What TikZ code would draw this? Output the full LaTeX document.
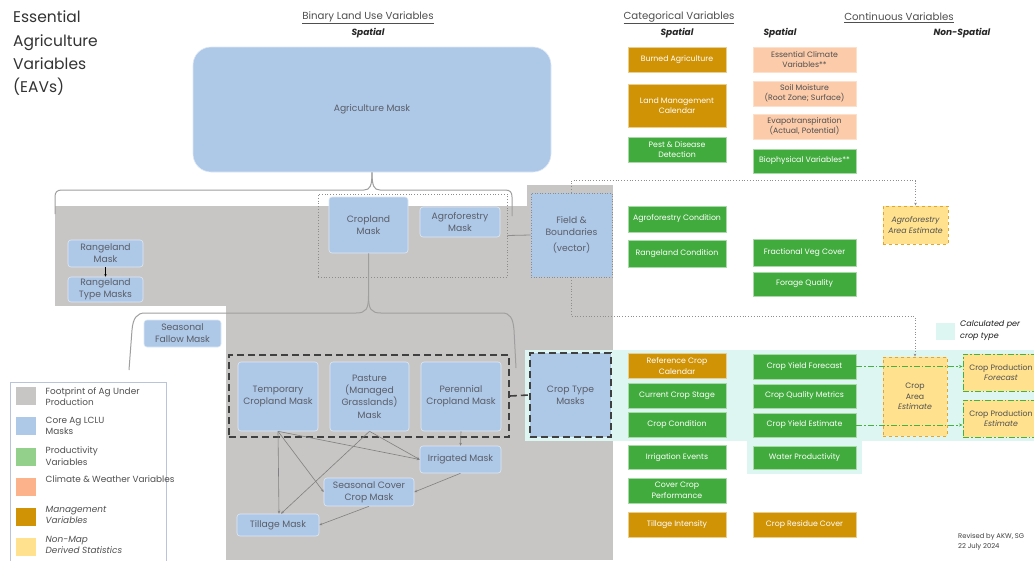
\documentclass[tikz,border=0pt]{standalone}
\usepackage{fontspec}
\setmainfont{Poppins}
\usetikzlibrary{arrows.meta}

\definecolor{agray}{HTML}{C8C6C4}
\definecolor{maskblue}{HTML}{AEC8E8}
\definecolor{masktxt}{HTML}{5A5E66}
\definecolor{prodgreen}{HTML}{41AB3D}
\definecolor{mgmt}{HTML}{D09306}
\definecolor{clim}{HTML}{FCCBAA}
\definecolor{estfill}{HTML}{FFE18E}
\definecolor{estline}{HTML}{E3A52B}
\definecolor{cropband}{HTML}{DDF6F1}
\definecolor{legline}{HTML}{B9C5D6}
\definecolor{linegray}{HTML}{8E8E8E}
\definecolor{dashgreen}{HTML}{46B040}
\definecolor{txtgray}{HTML}{4F4F4F}
\definecolor{swgreen}{HTML}{93D08C}
\definecolor{swsalmon}{HTML}{FCB28A}

\tikzset{
  base/.style={align=center, inner sep=0pt, font=\fontsize{7.8}{10.5}\selectfont},
  mask/.style={align=center, inner sep=0pt, font=\fontsize{9.2}{11.8}\selectfont, fill=maskblue, draw=white!60!maskblue, line width=0.6pt, rounded corners=3pt, text=masktxt},
  grn/.style={base, fill=prodgreen, draw=white!55!prodgreen, line width=0.8pt, text=white},
  mgt/.style={base, fill=mgmt, draw=white!55!mgmt, line width=0.8pt, text=white},
  clm/.style={base, fill=clim, draw=white!40!clim, line width=0.8pt, text=txtgray},
  est/.style={base, fill=estfill, draw=estline, dashed, line width=0.9pt, text=txtgray},
  prod/.style={base, fill=estfill, draw=dashgreen, dash pattern=on 6pt off 2pt on 1.5pt off 2pt, line width=1pt, text=txtgray},
  brace/.style={draw=linegray!85, line width=1pt},
  flow/.style={draw=linegray!90!black, line width=0.6pt, -{Stealth[length=3pt,width=2.6pt]}},
  dotlink/.style={draw=linegray, line width=0.8pt, dotted, -{Stealth[length=3pt,width=2.6pt]}},
  thickdash/.style={draw=black!75, line width=1.6pt, dash pattern=on 7pt off 4pt},
  greenlink/.style={draw=dashgreen, line width=1pt, dash pattern=on 6pt off 2pt on 1.5pt off 2pt, -{Stealth[length=3.5pt,width=3pt]}},
  hdr/.style={inner sep=0pt, text=txtgray, font=\fontsize{10.2}{12}\selectfont},
  sub/.style={inner sep=0pt, text=black!85, font=\fontsize{9}{11}\selectfont\bfseries\itshape},
  legtxt/.style={inner sep=0pt, anchor=north west, align=left, text=txtgray, font=\fontsize{8.9}{11.3}\selectfont},
  swatch/.style={minimum width=20, minimum height=18, inner sep=0pt},
}

\begin{document}
\begin{tikzpicture}[x=1pt,y=-1pt]
\useasboundingbox (0,0) rectangle (1034,560);
\fill[white] (0,0) rectangle (1034,560);

% footprint of agriculture under production
\fill[agray] (55,206) rectangle (226,306);
\fill[agray] (226,206) rectangle (613,560);
\fill[agray] (527,185) rectangle (613,206);

% per-crop-type band
\fill[cropband] (525,350) rectangle (1034,441);
\fill[cropband] (747,441) rectangle (862,474);

% title and column headings
\node[anchor=north west, align=left, inner sep=0pt, text=black!80,
      font=\fontsize{15.5}{23.3}\selectfont] (title) at (13,11)
  {Essential\\Agriculture\\Variables\\(EAVs)};
\node[hdr] (h1) at (368,18) {\underline{Binary Land Use Variables}};
\node[sub] (s1) at (368,33) {Spatial};
\node[hdr] (h2) at (679,18) {\underline{Categorical Variables}};
\node[sub] (s2) at (677,33) {Spatial};
\node[hdr] (h3) at (899,18) {\underline{Continuous Variables}};
\node[sub] (s3) at (780,33) {Spatial};
\node[sub] (s4) at (962,33) {Non-Spatial};

% binary land use masks
\node[mask, rounded corners=18pt, minimum width=358, minimum height=125] (agm) at (372,109.5) {Agriculture Mask};
\node[mask, minimum width=79, minimum height=56] (crm) at (368.5,225) {Cropland\\Mask};
\node[mask, minimum width=80, minimum height=30] (afm) at (460,222) {Agroforestry\\Mask};
\node[draw=black!45, dotted, line width=0.8pt, minimum width=189, minimum height=83] (dg) at (412.5,235.5) {};
\node[mask, rounded corners=0pt, draw=black!45, dotted, line width=0.8pt, minimum width=81, minimum height=84] (fb) at (571.5,235)
  {Field \&\\Boundaries\\[4pt](vector)};
\node[mask, minimum width=75, minimum height=27] (rm) at (105.5,253.5) {Rangeland\\Mask};
\node[mask, minimum width=75, minimum height=25] (rtm) at (105.5,289.5) {Rangeland\\Type Masks};
\node[mask, minimum width=77, minimum height=27] (sfm) at (182.5,333.5) {Seasonal\\Fallow Mask};

\node[mask, font=\fontsize{9.2}{12.3}\selectfont, minimum width=80, minimum height=69] (tcm) at (278,396.5) {Temporary\\Cropland Mask};
\node[mask, font=\fontsize{9.2}{12.3}\selectfont, minimum width=79, minimum height=69] (pm) at (369.5,396.5) {Pasture\\(Managed\\Grasslands)\\Mask};
\node[mask, font=\fontsize{9.2}{12.3}\selectfont, minimum width=80, minimum height=69] (pcm) at (461,396.5) {Perennial\\Cropland Mask};
\node[thickdash, minimum width=280, minimum height=82] (grp) at (369,396) {};
\node[mask, minimum width=81, minimum height=27] (im) at (460.5,459.5) {Irrigated Mask};
\node[mask, minimum width=90, minimum height=28] (scm) at (369,492) {Seasonal Cover\\Crop Mask};
\node[mask, minimum width=82, minimum height=22] (tm) at (278,525) {Tillage Mask};
\node[mask, rounded corners=0pt, thickdash, minimum width=81, minimum height=84] (ctm) at (570.5,395) {Crop Type\\Masks};

% braces grouping the masks
\draw[brace] (55,214) -- (55,197) .. controls (55,192) and (57,190) .. (62,190) -- (364,190)
  .. controls (370,190) and (372,186) .. (agm.south);
\draw[brace] (agm.south) .. controls (372,186) and (374,190) .. (380,190) -- (505,190)
  .. controls (510,190) and (512,192) .. (512,197) -- (512,216);
\coordinate (lb) at (368.5,296);
\draw[brace] (crm.south) -- (lb) .. controls (368.5,309) and (366,313) .. (356,313) -- (145,313)
  .. controls (137,313) and (133,318) .. (132,330) -- (129,370);
\draw[brace] (lb) .. controls (368.5,309) and (371,313) .. (381,313) -- (502,313)
  .. controls (510,313) and (513,318) .. (514,330) -- (516,368);

% links between masks
\draw[draw=linegray, line width=0.8pt] (dg.east) -- (fb.west);
\draw[thickdash] (grp.east) -- (ctm.west);
\draw[draw=black, line width=0.6pt, -{Stealth[length=2.5pt,width=2.4pt]}] (rm.south) -- (rtm.north);
\draw[flow] (tcm.south) -- ([xshift=1pt]tm.north);
\draw[flow] (tcm.south) -- (scm.west);
\draw[flow] (tcm.south) -- (im.west);
\draw[flow] (pm.south) -- ([xshift=3pt]tm.north);
\draw[flow] (pm.south) -- (im.west);
\draw[flow] (pcm.south) -- (im.north);
\draw[flow] (im.south) -- (scm.east);
\draw[flow] (scm.south) -- (tm.east);

% categorical variables
\node[mgt, minimum width=98, minimum height=25] (ba) at (677,59.5) {Burned Agriculture};
\node[mgt, minimum width=98, minimum height=43] (lmc) at (677,105.5) {Land Management\\Calendar};
\node[grn, minimum width=98, minimum height=25] (pdd) at (677,149.5) {Pest \& Disease\\Detection};
\node[grn, minimum width=98, minimum height=26] (afc) at (677,219) {Agroforestry Condition};
\node[grn, minimum width=98, minimum height=27] (rgc) at (677,253.5) {Rangeland Condition};
\node[mgt, minimum width=98, minimum height=25] (rcc) at (677,366) {Reference Crop\\Calendar};
\node[grn, minimum width=98, minimum height=25] (ccs) at (677,396) {Current Crop Stage};
\node[grn, minimum width=98, minimum height=25] (cco) at (677,425) {Crop Condition};
\node[grn, minimum width=98, minimum height=24] (ie) at (677,457.5) {Irrigation Events};
\node[grn, minimum width=98, minimum height=25] (ccp) at (677,490.5) {Cover Crop\\Performance};
\node[mgt, minimum width=98, minimum height=25] (ti) at (677,524.5) {Tillage Intensity};

% continuous spatial variables
\node[clm, minimum width=103, minimum height=25] (ecv) at (804.5,59.5) {Essential Climate\\Variables**};
\node[clm, minimum width=103, minimum height=25] (sm) at (804.5,93.5) {Soil Moisture\\(Root Zone; Surface)};
\node[clm, minimum width=103, minimum height=25] (et) at (804.5,126.5) {Evapotranspiration\\(Actual, Potential)};
\node[grn, minimum width=103, minimum height=24] (bio) at (804.5,161) {Biophysical Variables**};
\node[grn, minimum width=103, minimum height=27] (fvc) at (804.5,252.5) {Fractional Veg Cover};
\node[grn, minimum width=103, minimum height=24] (fq) at (804.5,284) {Forage Quality};
\node[grn, minimum width=103, minimum height=25] (cyf) at (804.5,366.5) {Crop Yield Forecast};
\node[grn, minimum width=103, minimum height=24] (cqm) at (804.5,396) {Crop Quality Metrics};
\node[grn, minimum width=103, minimum height=24] (cye) at (804.5,425) {Crop Yield Estimate};
\node[grn, minimum width=103, minimum height=23] (wp) at (804.5,457.5) {Water Productivity};
\node[mgt, minimum width=103, minimum height=25] (crc) at (804.5,524.5) {Crop Residue Cover};

% non-spatial statistics
\node[est, minimum width=65, minimum height=38] (aae) at (915.5,225) {\itshape Agroforestry\\\itshape Area Estimate};
\node[est, minimum width=64, minimum height=79] (cae) at (915,396.5) {Crop\\Area\\\itshape Estimate};
\node[prod, minimum width=76, minimum height=37] (cpf) at (1001,372.5) {Crop Production\\\itshape Forecast};
\node[prod, minimum width=76, minimum height=37] (cpe) at (1001,418.5) {Crop Production\\\itshape Estimate};

\draw[dotlink] (fb.north) -- ++(0,-12) -| (aae.north);
\draw[dotlink] (fb.south) -- ++(0,39) -| (cae.north);
\draw[greenlink] (cyf.east) -- (cpf.west |- cyf.east);
\draw[greenlink] (cye.east) -- (cpe.west |- cye.east);

% per crop type key
\node[swatch, fill=cropband, minimum width=19, minimum height=17] (kcb) at (945.5,331) {};
\node[anchor=north west, align=left, inner sep=0pt, text=black!90,
      font=\fontsize{8}{12}\selectfont\itshape] (kcbt) at (960,320) {Calculated per\\crop type};

% legend
\node[draw=legline, line width=0.8pt, minimum width=156, minimum height=182, inner sep=0pt] (leg) at (88,473) {};
\node[swatch, fill=agray] (k1) at (26,396) {};
\node[swatch, fill=maskblue] (k2) at (26,426) {};
\node[swatch, fill=swgreen] (k3) at (26,456.5) {};
\node[swatch, fill=swsalmon] (k4) at (26,486.5) {};
\node[swatch, fill=mgmt] (k5) at (26,516.5) {};
\node[swatch, fill=estfill] (k6) at (26,547) {};
\node[legtxt] (k1t) at (45.5,387) {Footprint of Ag Under\\Production};
\node[legtxt] (k2t) at (45.5,417) {Core Ag LCLU\\Masks};
\node[legtxt] (k3t) at (45.5,447) {Productivity\\Variables};
\node[legtxt] (k4t) at (45.5,476) {Climate \& Weather Variables};
\node[legtxt, font=\fontsize{8.9}{11.3}\selectfont\itshape] (k5t) at (45.5,506) {Management\\Variables};
\node[legtxt, font=\fontsize{8.9}{11.3}\selectfont\itshape] (k6t) at (45.5,536) {Non-Map\\Derived Statistics};

% revision note
\node[anchor=north west, align=left, inner sep=0pt, text=black!75,
      font=\fontsize{6.8}{10}\selectfont] (rev) at (958,533.5) {Revised by AKW, SG\\22 July 2024};
\end{tikzpicture}
\end{document}
